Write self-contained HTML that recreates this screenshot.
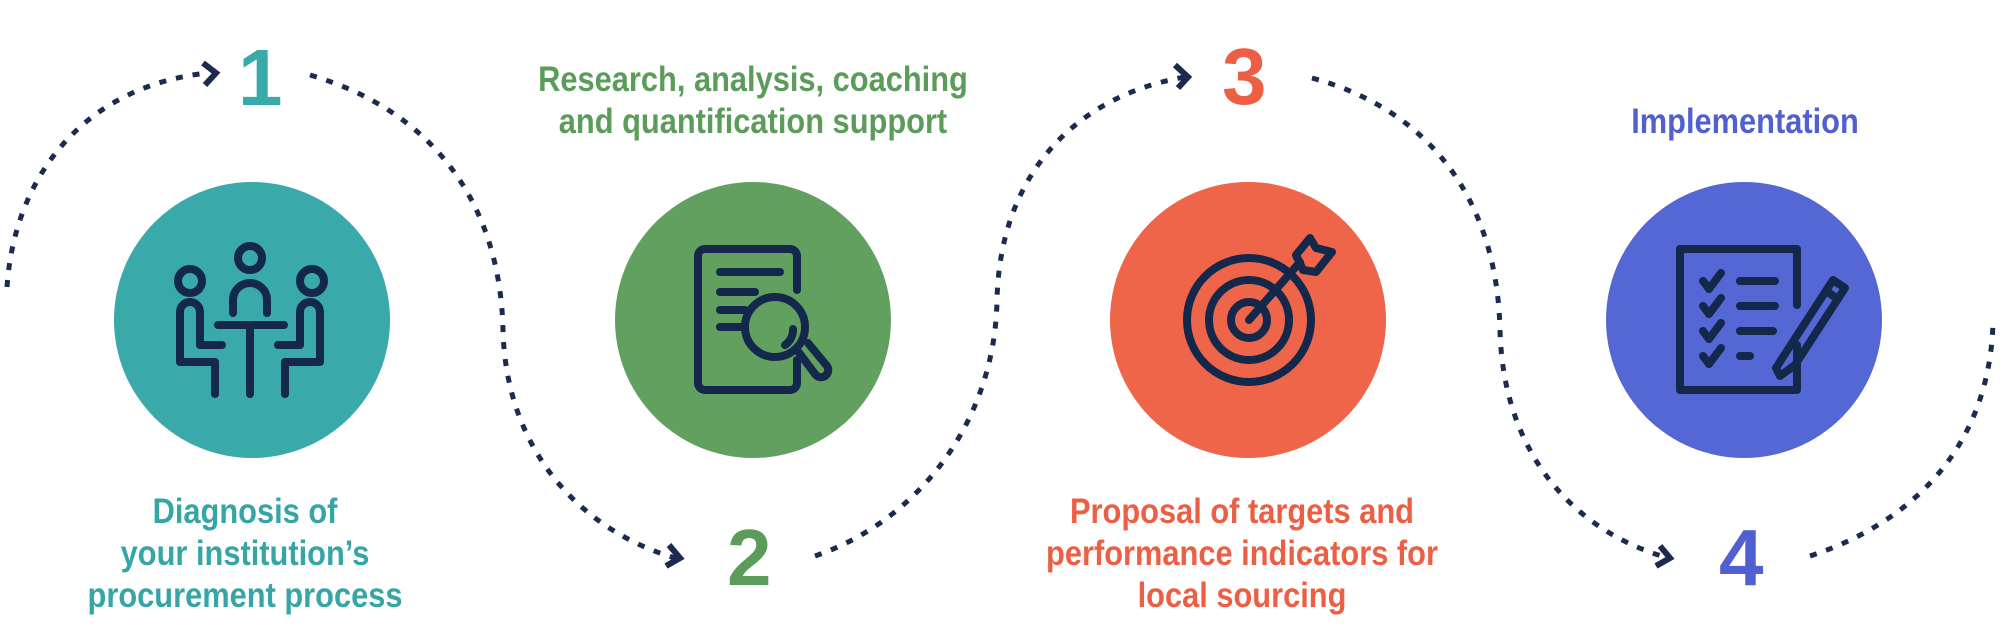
<!DOCTYPE html>
<html><head><meta charset="utf-8"><style>
html,body{margin:0;padding:0;background:#fff;}
body{width:2000px;height:640px;overflow:hidden;position:relative;font-family:"Liberation Sans",sans-serif;}
.t{position:absolute;font-weight:bold;white-space:nowrap;text-align:center;transform:translateX(-50%) scaleX(0.88);transform-origin:center;line-height:42px;font-size:35px;}
.n{position:absolute;font-weight:bold;font-size:80px;line-height:80px;}
</style></head><body>
<svg width="2000" height="640" style="position:absolute;left:0;top:0">
<g fill="none" stroke="#1b2a4e" stroke-width="5" stroke-dasharray="7 10" stroke-linecap="butt">
<path d="M7,287 C15,170 90,85 208,73"/>
<path d="M310,75 C430,110 500,200 503,330 C506,450 580,530 675,558"/>
<path d="M815,556 C920,520 995,420 997,300 C1000,170 1080,95 1185,77"/>
<path d="M1312,78 C1430,110 1497,200 1500,330 C1503,450 1570,530 1668,558"/>
<path d="M1810,556 C1920,520 1990,440 1993,322"/>
</g>
<g fill="none" stroke="#1b2a4e" stroke-width="6" stroke-linejoin="miter">
<path d="M203,63 L216,73 L205,85"/>
<path d="M669,545 L680,558 L666,566"/>
<path d="M1175,65 L1188,77 L1178,88"/>
<path d="M1660,546 L1670,558 L1656,566"/>
</g>
<circle cx="252" cy="320" r="138" fill="#39a9a9"/>
<circle cx="753" cy="320" r="138" fill="#62a060"/>
<circle cx="1248" cy="320" r="138" fill="#ee654a"/>
<circle cx="1744" cy="320" r="138" fill="#5567d4"/>
<g fill="none" stroke="#13284a" stroke-width="8" stroke-linecap="round" stroke-linejoin="round">
<!-- icon1 -->
<circle cx="250" cy="258" r="12"/>
<circle cx="190" cy="281" r="12"/>
<circle cx="312" cy="281" r="12"/>
<path d="M233,313 V300 a17,17 0 0 1 34,0 V313"/>
<path d="M218,325 H284 M250,325 V394"/>
<path d="M215,394 V362 H180 V312 a10,10 0 0 1 20,0 V345 H222"/>
<path d="M285,394 V362 H320 V312 a10,10 0 0 0 -20,0 V345 H278"/>
<!-- icon2 -->
<path d="M797,360 V383 a7,7 0 0 1 -7,7 H705 a7,7 0 0 1 -7,-7 V256 a7,7 0 0 1 7,-7 H790 a7,7 0 0 1 7,7 V290"/>
<path d="M720,272 H780 M720,292 H755 M720,310 H745 M720,327 H745"/>
<circle cx="775" cy="327" r="30"/>
<path d="M785,345 a18,18 0 0 0 8,-16"/>
<path d="M797,350 L815,374 a7,7 0 0 0 12,-8 L808,343"/>
<!-- icon3 -->
<circle cx="1249" cy="320" r="62"/>
<circle cx="1249" cy="320" r="40"/>
<circle cx="1249" cy="320" r="18"/>
<path d="M1249,320 L1300,262"/>
<path d="M1296,255 L1310,238 L1316,248 L1332,252 L1316,272 L1303,270 Z"/>
<!-- icon4 -->
<path d="M1797,345 V390 H1680 V249 H1797 V305"/>
<path d="M1703,281 l6,8 l12,-16 M1703,306 l6,8 l12,-16 M1703,331 l6,8 l12,-16 M1703,356 l6,8 l12,-16"/>
<path d="M1740,281 H1775 M1740,306 H1775 M1740,331 H1773 M1740,356 H1750"/>
<path d="M1776,368 L1783,357 L1833,280 L1845,288 L1795,365 L1780,376 Z M1826,291 L1838,299"/>
</g>
</svg>
<div class="n" style="left:238px;top:38px;color:#39a9a9">1</div>
<div class="n" style="left:727px;top:518px;color:#5b9c5a">2</div>
<div class="n" style="left:1222px;top:37px;color:#ec5f45">3</div>
<div class="n" style="left:1719px;top:518px;color:#5060d0">4</div>
<div class="t" style="left:753px;top:59px;color:#5b9c5a">Research, analysis, coaching<br>and quantification support</div>
<div class="t" style="left:1745px;top:101px;color:#5060d0">Implementation</div>
<div class="t" style="left:245px;top:491px;color:#35a5a5">Diagnosis of<br>your institution’s<br>procurement process</div>
<div class="t" style="left:1242px;top:491px;color:#ec5f45">Proposal of targets and<br>performance indicators for<br>local sourcing</div>
</body></html>
